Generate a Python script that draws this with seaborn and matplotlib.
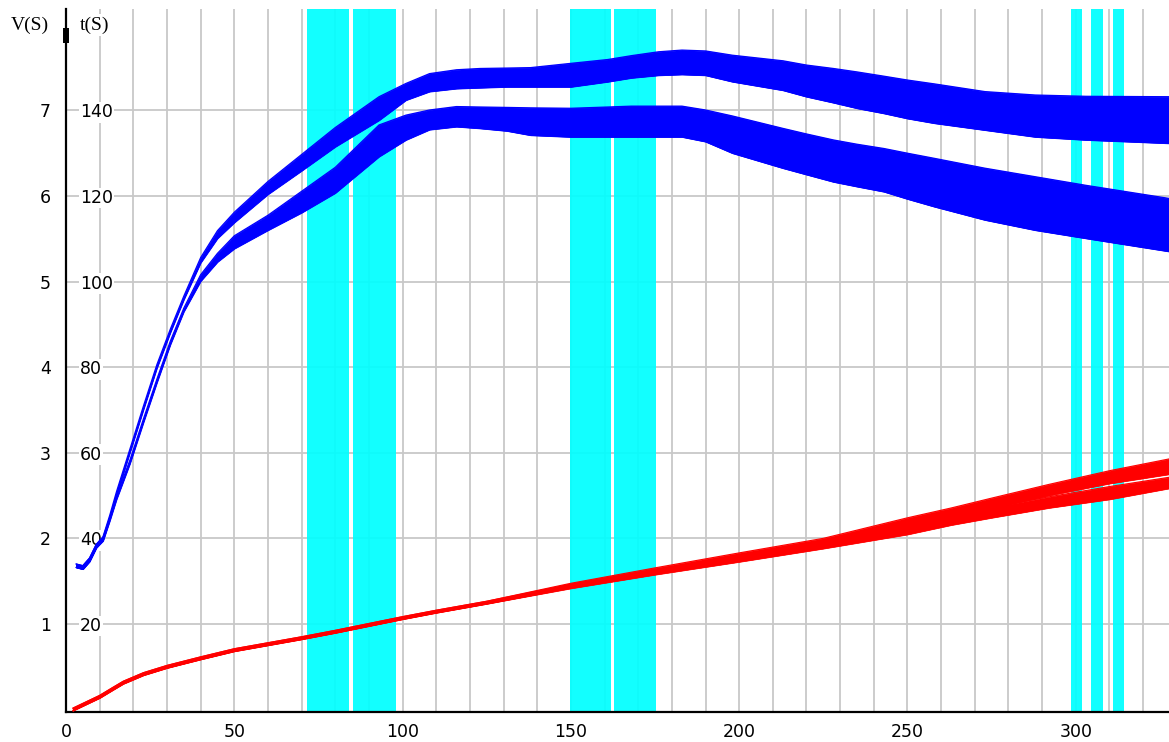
import matplotlib
matplotlib.use('Agg')
import matplotlib.pyplot as plt
import seaborn as sns

# ---- datos (x = S, t en unidades del eje derecho; V = t/20) ----
t_ticks = [20, 40, 60, 80, 100, 120, 140]
v_ticks = [1, 2, 3, 4, 5, 6, 7]
x_ticks = [0, 50, 100, 150, 200, 250, 300]

# franjas cian (inicio, fin)
span_start = [71.7, 85.4, 149.8, 162.8, 298.5, 304.4, 311.1]
span_end = [84.1, 97.9, 161.8, 175.4, 302.0, 308.0, 314.3]

# curvas azules: banda superior (ub) e inferior (lb), borde de arriba y de abajo
blue_x = [3, 5, 7, 9, 11, 13, 15, 19, 23, 27, 31, 35, 40, 45, 50, 60, 70, 80, 93,
          101, 108, 116, 123, 131, 138, 150, 161, 168, 176, 183, 190, 198, 213, 220,
          228, 235, 243, 250, 258, 273, 288, 303, 328]
ub_top = [34.0, 33.6, 35.4, 38.6, 40.4, 45.4, 50.9, 60.9, 70.9, 80.6, 88.9, 96.6, 105.6,
          111.9, 116.2, 123.4, 129.7, 136.0, 143.2,
          146.3, 148.6, 149.5, 149.8, 149.9, 150.0, 151.0, 151.9, 152.8, 153.7, 154.1,
          153.9, 152.9, 151.6, 150.6, 149.8, 149.0, 148.0, 147.1, 146.2, 144.4, 143.6,
          143.3, 143.2]
ub_bot = [33.2, 32.8, 34.6, 37.8, 39.6, 44.6, 50.1, 60.1, 70.1, 79.8, 88.1, 95.8, 104.4,
          110.1, 113.8, 120.4, 125.9, 131.5, 137.7,
          142.4, 144.4, 145.1, 145.3, 145.5, 145.5, 145.5, 146.7, 147.6, 148.2, 148.4,
          148.2, 146.7, 144.7, 143.2, 141.8, 140.5, 139.3, 138.1, 137.0, 135.4, 133.8,
          133.1, 132.3]
lb_top = [34.0, 33.6, 35.4, 38.6, 40.2, 44.9, 49.9, 58.3, 67.9, 77.2, 86.1, 93.8, 101.6,
          106.6, 110.7, 115.5, 121.1, 126.7, 136.6,
          138.9, 140.1, 140.9, 140.8, 140.7, 140.6, 140.5, 140.8, 141.0, 141.0, 141.0,
          140.1, 138.7, 135.8, 134.5, 133.1, 132.1, 131.1, 130.0, 128.8, 126.5, 124.5,
          122.5, 119.4]
lb_bot = [33.2, 32.8, 34.6, 37.8, 39.4, 44.1, 49.1, 57.5, 67.1, 76.4, 85.3, 93.0, 100.1,
          104.6, 107.7, 112.0, 116.1, 120.7, 129.2,
          133.1, 135.5, 136.2, 135.8, 135.2, 134.2, 133.8, 133.8, 133.8, 133.8, 133.8,
          132.7, 130.0, 126.5, 125.0, 123.3, 122.2, 121.0, 119.3, 117.5, 114.4, 112.0,
          110.1, 107.0]

# curvas rojas: superior (ru) e inferior (rl)
red_x = [2, 6, 10, 14, 17, 23, 30, 40, 50, 60, 70, 80, 90, 100, 110, 125, 150, 175, 200,
         225, 250, 263, 275, 292, 310, 328]
ru_top = [0.3, 1.8, 3.3, 5.2, 6.6, 8.6, 10.3, 12.3, 14.2, 15.6, 17.0, 18.5, 20.1, 21.7,
          23.2, 25.3, 29.5, 33.1, 36.6, 40.0, 44.8, 47.1, 49.4, 52.6, 55.8, 58.6]
ru_bot = [-0.3, 1.2, 2.7, 4.6, 6.0, 8.0, 9.7, 11.7, 13.6, 15.0, 16.4, 17.9, 19.5, 21.1,
          22.6, 24.7, 28.5, 31.7, 34.9, 38.0, 42.6, 44.9, 47.0, 50.0, 52.8, 55.0]
rl_top = [0.3, 1.8, 3.3, 5.2, 6.6, 8.6, 10.3, 12.3, 14.2, 15.6, 17.0, 18.5, 20.1, 21.7,
          23.2, 25.3, 29.3, 32.7, 36.1, 39.6, 43.1, 45.3, 47.2, 49.7, 52.1, 54.3]
rl_bot = [-0.3, 1.2, 2.7, 4.6, 6.0, 8.0, 9.7, 11.7, 13.6, 15.0, 16.4, 17.9, 19.5, 21.1,
          22.6, 24.7, 28.3, 31.5, 34.5, 37.6, 40.9, 43.1, 44.8, 47.1, 49.1, 51.7]

# GRAFICO
sns.set_theme(style='white')
plt.rcParams['font.family'] = ['DejaVu Sans']

fig = plt.figure(figsize=(11.69, 7.42), dpi=100)
ax = fig.add_axes([66 / 1169, (742 - 711.5) / 742, (1169 - 66) / 1169, (711.5 - 9) / 742])

for s, e in zip(span_start, span_end):
    ax.axvspan(s, e, color='#00ffff', alpha=0.93, lw=0, zorder=1)

azul = '#0000ff'
rojo = '#ff0000'
for top, bot in [(ub_top, ub_bot), (lb_top, lb_bot)]:
    ax.fill_between(blue_x, bot, top, facecolor=azul, edgecolor=azul, lw=0.6, zorder=3)
    sns.lineplot(x=blue_x, y=top, ax=ax, color=azul, lw=0.9, zorder=3)
    sns.lineplot(x=blue_x, y=bot, ax=ax, color=azul, lw=0.9, zorder=3)
for top, bot in [(ru_top, ru_bot), (rl_top, rl_bot)]:
    ax.fill_between(red_x, bot, top, facecolor=rojo, edgecolor=rojo, lw=0.5, zorder=3)
    sns.lineplot(x=red_x, y=top, ax=ax, color=rojo, lw=0.8, zorder=3)
    sns.lineplot(x=red_x, y=bot, ax=ax, color=rojo, lw=0.8, zorder=3)

ax.set_xlim(0, 327.7)
ax.set_ylim(-0.47, 163.7)
ax.set_xticks(x_ticks)
ax.set_xticks(range(0, 330, 10), minor=True)
ax.set_yticks(t_ticks)
ax.set_yticklabels([str(t) for t in t_ticks])
ax.set_xticklabels([str(x) for x in x_ticks])

ax.set_axisbelow(True)
ax.grid(which='both', axis='x', color='#c8c8c8', lw=1.3)
ax.grid(which='major', axis='y', color='#c8c8c8', lw=1.3)

for side in ['top', 'right']:
    ax.spines[side].set_visible(False)
for side in ['left', 'bottom']:
    ax.spines[side].set_color('black')
    ax.spines[side].set_linewidth(1.6)

ax.tick_params(axis='x', which='major', direction='out', length=4, width=1.3,
               color='black', labelsize=12.5, pad=4, labelcolor='black')
ax.tick_params(axis='x', which='minor', length=0)
ax.tick_params(axis='y', which='major', direction='inout', length=8, width=1.3,
               color='black', labelsize=12.5, pad=-14, labelcolor='black')
for lbl in ax.get_yticklabels():
    lbl.set_horizontalalignment('left')
    lbl.set_bbox(dict(facecolor='white', edgecolor='none', pad=1.0))

sec = ax.secondary_yaxis('left', functions=(lambda t: t / 20, lambda v: v * 20))
sec.set_yticks(v_ticks)
sec.set_yticklabels([str(v) for v in v_ticks])
sec.tick_params(length=0, pad=11, labelsize=12.5, labelcolor='black')
sec.spines['left'].set_visible(False)

# marca gruesa arriba del eje
ax.plot([0, 0], [0.9516, 0.973], transform=ax.transAxes, color='black', lw=4.3,
        solid_capstyle='butt', clip_on=False, zorder=5)

fig.text(30 / 1169, 1 - 25 / 742, 'V(S)', ha='center', va='center', fontsize=14,
         family=['Liberation Serif', 'DejaVu Serif'], color='black')
fig.text(95 / 1169, 1 - 25 / 742, 't(S)', ha='center', va='center', fontsize=14,
         family=['Liberation Serif', 'DejaVu Serif'], color='black',
         bbox=dict(facecolor='white', edgecolor='none', pad=1.5))

fig.savefig('out.png', dpi=100)
